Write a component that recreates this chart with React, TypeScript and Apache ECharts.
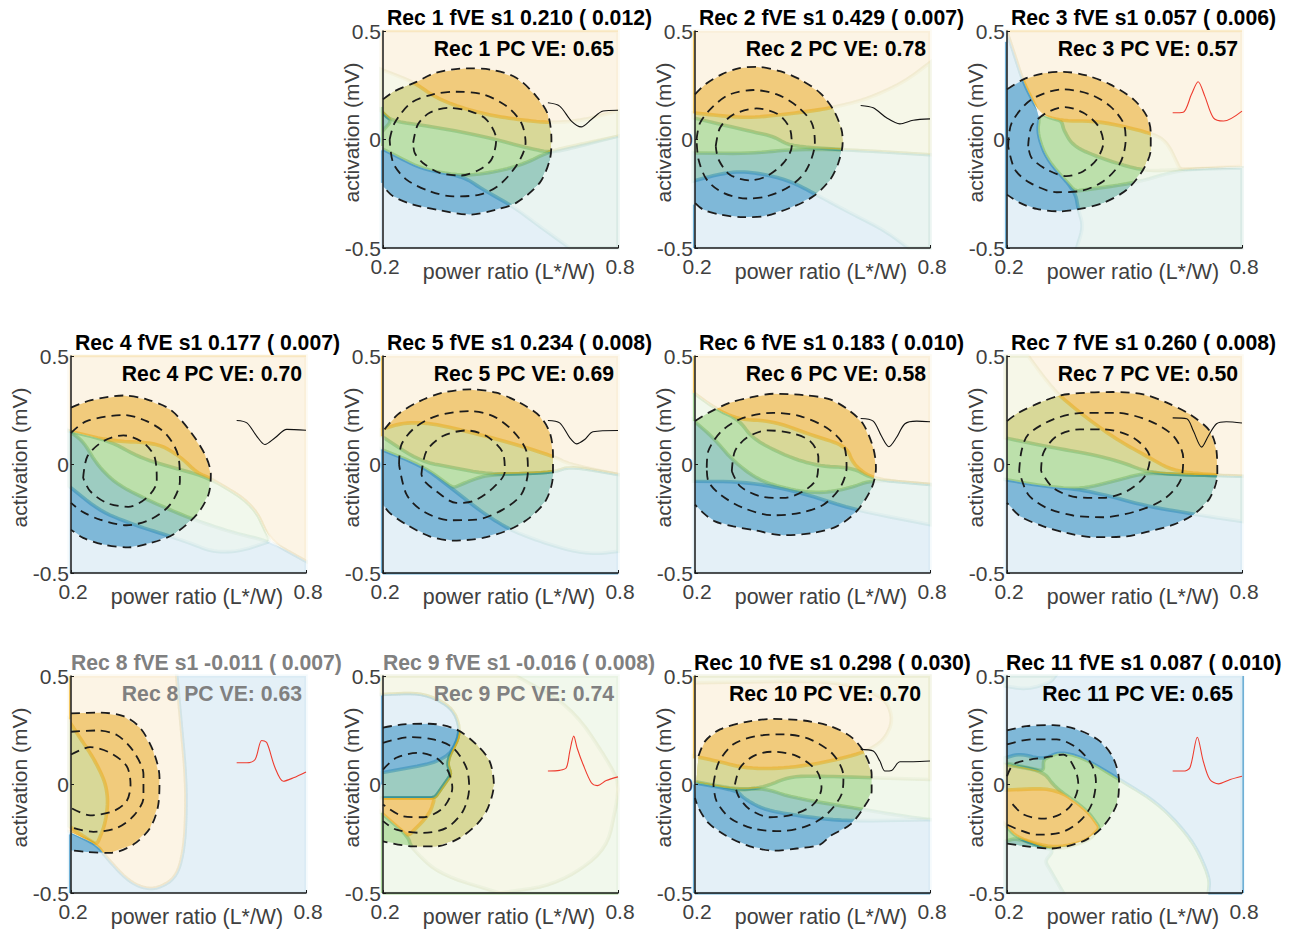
import React, { useEffect, useRef } from "react";
import * as echarts from "echarts";

type P = number[];
const recNames = ["1", "2", "3", "4", "5", "6", "7", "8", "9", "10", "11"];
const fveValues = ["0.210", "0.429", "0.057", "0.177", "0.234", "0.183", "0.260", "-0.011", "-0.016", "0.298", "0.087"];
const fveErrors = ["0.012", "0.007", "0.006", "0.007", "0.008", "0.010", "0.008", "0.007", "0.008", "0.030", "0.010"];
const pcValues = ["0.65", "0.78", "0.57", "0.70", "0.69", "0.58", "0.50", "0.63", "0.74", "0.70", "0.65"];
const xTicks = [0.2, 0.8];
const yTicks = [-0.5, 0, 0.5];

const outer1: P[] = [[.2,.185],[.23,.223],[.281,.262],[.336,.308],[.413,.328],[.481,.32],[.54,.285],[.591,.2],[.621,.115],[.63,0],[.626,-.092],[.6,-.2],[.54,-.292],[.489,-.323],[.421,-.346],[.345,-.326],[.277,-.3],[.226,-.262],[.2,-.215]];
const mid1: P[] = [[.217,0],[.23,.077],[.272,.169],[.328,.208],[.387,.22],[.455,.208],[.515,.154],[.553,.077],[.564,-.015],[.545,-.108],[.498,-.208],[.447,-.254],[.379,-.262],[.319,-.238],[.26,-.185],[.226,-.108],[.217,0]];
const inner1: P[] = [[.277,-.015],[.289,.069],[.319,.123],[.366,.146],[.421,.131],[.464,.092],[.489,0],[.477,-.092],[.447,-.138],[.4,-.166],[.345,-.154],[.302,-.108],[.281,-.062],[.277,-.015]];
const orange1: P[][] = [[[.195,.5],[.8,.5],[.8,.015],[.702,-.03],[.63,-.062],[.566,-.038],[.472,.008],[.345,.054],[.221,.085],[.195,.131]]];
const green1: P[][] = [[[.195,.323],[.281,.262],[.328,.2],[.387,.154],[.464,.115],[.532,.095],[.617,.077],[.702,.085],[.8,.131],[.8,-.5],[.677,-.5],[.6,-.4],[.532,-.308],[.455,-.231],[.404,-.169],[.302,-.138],[.226,-.069],[.195,-.04]]];
const blue1: P[][] = [[[.195,-.04],[.226,-.069],[.302,-.138],[.404,-.169],[.498,-.146],[.566,-.108],[.626,-.054],[.702,-.023],[.8,.015],[.8,-.5],[.195,-.5]],[[.195,.131],[.221,.085],[.195,.031]]];
const wave1: P[] = [[.621,.169],[.651,.154],[.681,.085],[.706,.058],[.732,.092],[.762,.131],[.8,.135]];
const edges1: any[] = [["o",[[.2,.5],[.8,.5]]],["b",[[.197,-.05],[.197,-.2]]],["g",[[.197,.15],[.197,-.03]]]];

const outer2: P[] = [[.2,.208],[.226,.254],[.268,.3],[.311,.328],[.357,.335],[.417,.315],[.468,.277],[.519,.215],[.553,.138],[.574,.046],[.577,-.015],[.566,-.108],[.545,-.185],[.502,-.262],[.443,-.315],[.374,-.354],[.323,-.358],[.264,-.346],[.221,-.323],[.2,-.292]];
const mid2: P[] = [[.204,0],[.213,.077],[.247,.154],[.289,.208],[.349,.228],[.409,.208],[.46,.154],[.498,.077],[.506,-.015],[.485,-.138],[.443,-.215],[.383,-.262],[.332,-.272],[.272,-.246],[.23,-.185],[.209,-.092],[.204,0]];
const inner2: P[] = [[.253,-.031],[.264,.054],[.298,.115],[.357,.143],[.413,.115],[.443,.046],[.447,-.031],[.426,-.108],[.383,-.169],[.34,-.188],[.289,-.162],[.26,-.092],[.253,-.031]];
const orange2: P[][] = [[[.195,.5],[.8,.5],[.8,-.07],[.574,-.046],[.443,-.031],[.4,.015],[.34,.038],[.195,.1]]];
const green2: P[][] = [[[.195,.123],[.272,.108],[.34,.1],[.426,.115],[.494,.131],[.549,.146],[.638,.185],[.732,.262],[.8,.354],[.8,-.5],[.745,-.5],[.681,-.415],[.596,-.338],[.502,-.246],[.443,-.192],[.383,-.162],[.315,-.146],[.255,-.162],[.195,-.192]]];
const blue2: P[][] = [[[.195,-.062],[.34,-.065],[.443,-.046],[.574,-.046],[.8,-.07],[.8,-.5],[.195,-.5]]];
const wave2: P[] = [[.623,.157],[.655,.146],[.689,.1],[.723,.072],[.757,.089],[.8,.095]];
const edges2: any[] = [["o",[[.197,.5],[.197,.12]]],["b",[[.197,-.3],[.197,-.5]]]];

const outer3: P[] = [[.2,.231],[.242,.277],[.293,.305],[.344,.312],[.403,.295],[.463,.254],[.523,.185],[.557,.108],[.567,.031],[.567,-.046],[.548,-.138],[.506,-.231],[.446,-.292],[.386,-.32],[.335,-.331],[.276,-.32],[.233,-.292],[.2,-.254]];
const mid3: P[] = [[.203,-.031],[.212,.077],[.263,.185],[.344,.231],[.412,.208],[.463,.154],[.497,.077],[.503,0],[.489,-.108],[.446,-.192],[.386,-.238],[.327,-.243],[.259,-.2],[.22,-.138],[.203,-.031]];
const inner3: P[] = [[.254,-.031],[.263,.062],[.301,.123],[.348,.149],[.395,.123],[.433,.062],[.446,-.015],[.429,-.092],[.395,-.146],[.352,-.169],[.301,-.138],[.263,-.085],[.254,-.031]];
const orange3: P[][] = [[[.199,.5],[.8,.5],[.8,-.123],[.642,-.138],[.548,-.146],[.437,-.085],[.369,-.031],[.344,.046],[.34,.085],[.284,.115],[.242,.262],[.22,.385]]];
const green3: P[][] = [[[.284,.115],[.34,.085],[.437,.085],[.565,.031],[.608,-.008],[.642,-.138],[.8,-.131],[.8,-.5],[.378,-.5],[.395,-.4],[.382,-.323],[.374,-.238],[.301,-.092],[.277,.031]]];
const blue3: P[][] = [[[.199,.5],[.22,.385],[.242,.262],[.284,.115],[.277,.031],[.301,-.092],[.374,-.238],[.531,-.2],[.642,-.138],[.8,-.131],[.8,-.5],[.195,-.5]]];
const wave3: P[] = [[.623,.123],[.65,.126],[.671,.208],[.688,.266],[.705,.2],[.727,.1],[.753,.085],[.8,.131]];
const edges3: any[] = [["o",[[.2,.5],[.8,.5]]],["b",[[.197,.45],[.197,-.5]]]];

const outer4: P[] = [[.2,.262],[.249,.295],[.334,.318],[.393,.3],[.453,.254],[.504,.154],[.542,.046],[.557,-.046],[.551,-.138],[.521,-.231],[.461,-.323],[.402,-.362],[.346,-.382],[.283,-.369],[.231,-.338],[.2,-.3]];
const mid4: P[] = [[.2,.146],[.24,.2],[.334,.228],[.393,.2],[.444,.138],[.474,.038],[.478,-.077],[.453,-.185],[.402,-.254],[.342,-.28],[.274,-.254],[.227,-.215],[.2,-.177]];
const inner4: P[] = [[.231,-.062],[.242,.038],[.283,.108],[.334,.134],[.385,.1],[.414,.031],[.419,-.077],[.393,-.154],[.346,-.195],[.291,-.177],[.249,-.123],[.231,-.062]];
const orange4: P[][] = [[[.195,.5],[.8,.5],[.8,-.446],[.708,-.354],[.666,-.185],[.555,-.062],[.461,-.015],[.376,.031],[.3,.108],[.195,.154]]];
const green4: P[][] = [[[.195,.154],[.3,.108],[.419,.1],[.478,.038],[.521,-.038],[.555,-.062],[.666,-.185],[.708,-.354],[.631,-.4],[.563,-.403],[.504,-.362],[.453,-.331],[.359,-.277],[.274,-.215],[.195,-.1]]];
const blue4: P[][] = [[[.195,.154],[.231,.108],[.266,0],[.317,-.092],[.402,-.169],[.512,-.254],[.614,-.315],[.708,-.354],[.8,-.446],[.8,-.5],[.195,-.5]]];
const wave4: P[] = [[.623,.203],[.649,.192],[.674,.131],[.695,.092],[.721,.123],[.751,.162],[.8,.158]];
const edges4: any[] = [["o",[[.2,.5],[.8,.5]]]];

const outer5: P[] = [[.204,.162],[.238,.231],[.294,.292],[.353,.331],[.421,.346],[.489,.331],[.549,.285],[.6,.223],[.626,.146],[.634,.046],[.634,-.046],[.617,-.162],[.574,-.246],[.523,-.3],[.455,-.338],[.379,-.351],[.319,-.331],[.26,-.277],[.217,-.223],[.2,-.185]];
const mid5: P[] = [[.241,0],[.247,.092],[.281,.169],[.336,.223],[.421,.246],[.481,.223],[.532,.154],[.566,.062],[.57,-.031],[.553,-.138],[.506,-.208],[.438,-.254],[.37,-.257],[.302,-.215],[.26,-.138],[.241,0]];
const inner5: P[] = [[.298,-.046],[.311,.062],[.353,.131],[.413,.157],[.464,.131],[.506,.054],[.511,-.031],[.481,-.108],[.43,-.169],[.387,-.177],[.336,-.123],[.306,-.077],[.298,-.046]];
const orange5: P[][] = [[[.196,.5],[.8,.5],[.8,-.046],[.677,-.008],[.634,-.038],[.472,-.046],[.379,-.015],[.294,.015],[.196,.131]]];
const green5: P[][] = [[[.196,.162],[.251,.192],[.319,.192],[.43,.146],[.54,.092],[.634,.038],[.677,0],[.8,-.046],[.8,-.4],[.745,-.412],[.685,-.4],[.6,-.354],[.523,-.3],[.455,-.223],[.379,-.115],[.302,-.008],[.196,.069]]];
const blue5: P[][] = [[[.196,.069],[.302,-.008],[.379,-.108],[.43,-.069],[.472,-.046],[.634,-.038],[.677,-.008],[.8,-.046],[.8,-.5],[.196,-.5]]];
const wave5: P[] = [[.621,.203],[.651,.192],[.677,.123],[.694,.095],[.715,.115],[.736,.151],[.8,.157]];
const edges5: any[] = [["o",[[.197,.5],[.197,.13]]],["b",[[.197,.07],[.197,-.5]]],["b",[[.2,-.503],[.8,-.503]]]];

const outer6: P[] = [[.2,.2],[.234,.238],[.289,.285],[.34,.308],[.4,.326],[.477,.32],[.545,.3],[.596,.246],[.63,.185],[.655,.077],[.662,-.015],[.651,-.108],[.613,-.215],[.562,-.285],[.502,-.315],[.426,-.326],[.357,-.305],[.298,-.285],[.251,-.262],[.221,-.223],[.2,-.185]];
const mid6: P[] = [[.23,-.015],[.234,.062],[.268,.154],[.323,.215],[.4,.238],[.468,.223],[.536,.169],[.579,.092],[.587,-.015],[.57,-.108],[.528,-.185],[.468,-.223],[.4,-.234],[.323,-.2],[.264,-.138],[.234,-.077],[.23,-.015]];
const inner6: P[] = [[.294,-.031],[.302,.062],[.332,.123],[.383,.157],[.443,.146],[.494,.108],[.515,.031],[.511,-.062],[.477,-.123],[.426,-.154],[.366,-.146],[.315,-.1],[.294,-.031]];
const orange6: P[][] = [[[.196,.5],[.8,.5],[.8,-.092],[.655,-.069],[.604,-.015],[.519,-.008],[.443,.031],[.349,.115],[.311,.208],[.255,.254],[.196,.331]]];
const green6: P[][] = [[[.196,.331],[.255,.254],[.311,.208],[.4,.2],[.494,.138],[.587,.085],[.604,0],[.655,-.069],[.8,-.092],[.8,-.277],[.604,-.208],[.46,-.123],[.332,-.08],[.196,-.077]]];
const blue6: P[][] = [[[.196,.203],[.247,.123],[.298,.015],[.366,-.077],[.46,-.123],[.528,-.131],[.596,-.108],[.655,-.069],[.8,-.092],[.8,-.5],[.196,-.5]]];
const wave6: P[] = [[.623,.212],[.655,.2],[.676,.131],[.695,.082],[.714,.123],[.736,.188],[.766,.2],[.8,.197]];
const edges6: any[] = [["o",[[.197,.5],[.197,.33]]],["g",[[.197,.33],[.197,.2]]]];

const outer7: P[] = [[.2,.2],[.229,.238],[.284,.285],[.335,.318],[.403,.331],[.471,.334],[.548,.323],[.608,.285],[.667,.231],[.718,.154],[.735,.062],[.737,-.046],[.718,-.154],[.676,-.231],[.625,-.277],[.557,-.311],[.506,-.331],[.42,-.335],[.352,-.315],[.293,-.285],[.233,-.238],[.2,-.177]];
const mid7: P[] = [[.231,-.031],[.237,.062],[.254,.138],[.318,.208],[.395,.238],[.48,.238],[.565,.2],[.625,.131],[.65,.031],[.642,-.077],[.599,-.162],[.531,-.215],[.446,-.243],[.369,-.235],[.301,-.2],[.254,-.138],[.231,-.031]];
const inner7: P[] = [[.287,-.031],[.293,.054],[.327,.131],[.386,.162],[.446,.162],[.523,.123],[.565,.031],[.552,-.054],[.506,-.123],[.446,-.154],[.378,-.151],[.318,-.108],[.287,-.031]];
const orange7: P[][] = [[[.195,.5],[.8,.5],[.8,-.054],[.625,-.046],[.552,-.031],[.497,.008],[.42,.046],[.293,.085],[.195,.123]]];
const green7: P[][] = [[[.195,.5],[.254,.5],[.301,.385],[.335,.315],[.403,.215],[.48,.115],[.557,.038],[.625,-.031],[.735,-.049],[.8,-.054],[.8,-.262],[.684,-.231],[.557,-.192],[.463,-.146],[.386,-.115],[.293,-.1],[.195,-.069]]];
const blue7: P[][] = [[[.195,-.069],[.293,-.1],[.386,-.115],[.471,-.077],[.552,-.038],[.625,-.046],[.8,-.054],[.8,-.5],[.195,-.5]]];
const wave7: P[] = [[.623,.215],[.659,.211],[.676,.154],[.697,.08],[.714,.131],[.735,.188],[.76,.197],[.8,.191]];
const edges7: any[] = [];

const outer8: P[] = [[.2,.328],[.274,.331],[.334,.315],[.376,.262],[.41,.154],[.426,.031],[.423,-.092],[.402,-.2],[.359,-.277],[.3,-.315],[.24,-.311],[.2,-.303]];
const mid8: P[] = [[.2,.243],[.266,.249],[.317,.228],[.359,.154],[.385,.046],[.385,-.062],[.359,-.146],[.317,-.2],[.257,-.218],[.2,-.197]];
const inner8: P[] = [[.2,.138],[.249,.172],[.3,.146],[.342,.085],[.352,0],[.342,-.077],[.308,-.123],[.249,-.142],[.2,-.108]];
const orange8: P[][] = [[[.195,.5],[.47,.5],[.478,.338],[.495,0],[.491,-.277],[.47,-.431],[.41,-.489],[.351,-.454],[.291,-.338],[.266,-.277],[.195,-.215]]];
const green8: P[][] = [[[.195,.292],[.223,.215],[.257,.123],[.287,.015],[.295,-.077],[.287,-.185],[.266,-.277],[.231,-.238],[.195,-.192]]];
const blue8: P[][] = [[[.47,.5],[.8,.5],[.8,-.5],[.195,-.5],[.195,-.22],[.266,-.277],[.291,-.338],[.351,-.454],[.41,-.489],[.47,-.431],[.491,-.277],[.495,0],[.478,.338]]];
const wave8: P[] = [[.623,.1],[.649,.1],[.67,.115],[.687,.203],[.7,.192],[.721,.077],[.742,.015],[.768,.031],[.8,.058]];
const edges8: any[] = [["o",[[.197,.5],[.197,.3]]],["b",[[.197,-.23],[.197,-.5]]]];

const outer9: P[] = [[.2,.262],[.251,.277],[.319,.28],[.387,.254],[.438,.185],[.472,.108],[.483,0],[.468,-.108],[.443,-.177],[.396,-.246],[.336,-.285],[.277,-.285],[.2,-.262]];
const mid9: P[] = [[.2,.192],[.268,.218],[.328,.208],[.379,.169],[.413,.077],[.42,-.015],[.404,-.123],[.362,-.2],[.302,-.223],[.234,-.208],[.2,-.169]];
const inner9: P[] = [[.2,.069],[.234,.123],[.289,.146],[.336,.123],[.366,.062],[.377,-.015],[.353,-.108],[.302,-.151],[.251,-.146],[.2,-.092]];
const orange9: P[][] = [[[.196,.5],[.54,.5],[.685,.354],[.796,.046],[.8,-.023],[.796,-.092],[.77,-.308],[.643,-.462],[.498,-.5],[.345,-.415],[.272,-.292],[.264,-.238],[.196,-.131],[.196,-.062],[.332,-.062],[.374,.046],[.362,.108],[.4,.238],[.379,.354],[.302,.423],[.196,.415]]];
const green9: P[][] = [[[.196,.5],[.8,.5],[.8,-.5],[.196,-.5],[.196,-.131],[.264,-.238],[.319,-.138],[.332,-.062],[.196,-.062],[.196,.054],[.362,.108],[.4,.238],[.379,.354],[.302,.423],[.196,.415]]];
const blue9: P[][] = [[[.196,.415],[.302,.423],[.379,.354],[.4,.238],[.362,.108],[.374,.046],[.332,-.062],[.196,-.062]]];
const wave9: P[] = [[.621,.062],[.651,.065],[.668,.077],[.677,.154],[.687,.223],[.696,.166],[.711,.092],[.732,.008],[.747,-.005],[.77,.018],[.8,.035]];
const edges9: any[] = [["b",[[.197,.41],[.197,.0]]],["g",[[.197,-.13],[.197,-.5]]],["g",[[.2,-.503],[.8,-.503]]]];

const outer10: P[] = [[.209,.131],[.226,.2],[.264,.254],[.332,.289],[.4,.302],[.477,.295],[.545,.269],[.596,.223],[.63,.154],[.651,.046],[.651,-.031],[.63,-.108],[.596,-.185],[.545,-.238],[.519,-.277],[.46,-.295],[.4,-.305],[.34,-.285],[.281,-.238],[.234,-.177],[.209,-.108],[.2,-.062]];
const mid10: P[] = [[.247,0],[.26,.1],[.298,.185],[.357,.223],[.426,.231],[.494,.208],[.553,.138],[.579,.038],[.574,-.046],[.536,-.138],[.485,-.192],[.417,-.215],[.349,-.203],[.289,-.154],[.255,-.077],[.247,0]];
const inner10: P[] = [[.302,0],[.315,.077],[.349,.131],[.396,.151],[.46,.131],[.511,.062],[.523,-.015],[.502,-.092],[.451,-.138],[.391,-.151],[.34,-.115],[.311,-.054],[.302,0]];
const orange10: P[][] = [[[.196,.5],[.8,.5],[.8,.023],[.651,.031],[.536,.038],[.443,.038],[.374,-.015],[.306,-.023],[.196,.015]]];
const green10: P[][] = [[[.196,.131],[.255,.108],[.332,.074],[.426,.074],[.528,.1],[.63,.146],[.681,.2],[.706,.292],[.689,.392],[.613,.454],[.511,.477],[.2,.469],[.2,.5],[.8,.5],[.8,-.162],[.587,-.169],[.468,-.146],[.374,-.115],[.323,-.062],[.308,-.028],[.196,.008]]];
const blue10: P[][] = [[[.196,.008],[.308,-.028],[.374,-.015],[.451,-.062],[.63,-.115],[.732,-.146],[.8,-.162],[.8,-.5],[.196,-.5]]];
const wave10: P[] = [[.623,.162],[.655,.154],[.672,.108],[.685,.062],[.702,.065],[.723,.105],[.757,.105],[.8,.108]];
const edges10: any[] = [["o",[[.197,.5],[.197,.12]]],["b",[[.197,.0],[.197,-.5]]],["b",[[.2,-.503],[.8,-.503]]]];

const outer11: P[] = [[.2,.249],[.25,.269],[.318,.274],[.378,.254],[.437,.2],[.471,.123],[.486,.015],[.48,-.092],[.446,-.192],[.403,-.254],[.352,-.285],[.31,-.295],[.25,-.285],[.2,-.272]];
const mid11: P[] = [[.2,.185],[.263,.208],[.327,.208],[.378,.169],[.416,.092],[.427,.015],[.416,-.092],[.386,-.169],[.335,-.223],[.276,-.231],[.2,-.185]];
const inner11: P[] = [[.2,.038],[.216,.092],[.259,.115],[.293,.123],[.344,.138],[.374,.069],[.382,0],[.365,-.092],[.335,-.138],[.293,-.157],[.242,-.138],[.208,-.077]];
const orange11: P[][] = [[[.195,.092],[.293,.062],[.323,-.015],[.403,-.115],[.437,-.2],[.408,-.262],[.318,-.305],[.225,-.246],[.195,-.185]]];
const green11: P[][] = [[[.195,.123],[.233,.142],[.293,.115],[.335,.151],[.395,.123],[.48,.031],[.591,-.092],[.676,-.262],[.718,-.431],[.714,-.5],[.195,-.5],[.195,-.185],[.225,-.246],[.318,-.295],[.403,-.262],[.437,-.2],[.403,-.115],[.323,-.015],[.195,-.026]],[[.195,.5],[.323,.5],[.31,.469],[.25,.438],[.195,.454]]];
const blue11: P[][] = [[[.195,.5],[.8,.5],[.8,-.5],[.714,-.5],[.718,-.431],[.676,-.262],[.591,-.092],[.48,.031],[.395,.123],[.335,.151],[.293,.115],[.293,.062],[.195,.1]],[[.195,-.262],[.225,-.246],[.318,-.305],[.297,-.354],[.344,-.5],[.195,-.5]]];
const wave11: P[] = [[.623,.062],[.65,.062],[.667,.077],[.686,.218],[.701,.108],[.718,.023],[.74,.003],[.77,.023],[.8,.038]];
const edges11: any[] = [["b",[[.803,.5],[.803,-.5]]],["b",[[.714,-.503],[.8,-.503]]]];

const outers = [outer1, outer2, outer3, outer4, outer5, outer6, outer7, outer8, outer9, outer10, outer11];
const mids = [mid1, mid2, mid3, mid4, mid5, mid6, mid7, mid8, mid9, mid10, mid11];
const inners = [inner1, inner2, inner3, inner4, inner5, inner6, inner7, inner8, inner9, inner10, inner11];
const oranges = [orange1, orange2, orange3, orange4, orange5, orange6, orange7, orange8, orange9, orange10, orange11];
const greens = [green1, green2, green3, green4, green5, green6, green7, green8, green9, green10, green11];
const blues = [blue1, blue2, blue3, blue4, blue5, blue6, blue7, blue8, blue9, blue10, blue11];
const waves = [wave1, wave2, wave3, wave4, wave5, wave6, wave7, wave8, wave9, wave10, wave11];
const edgeLines = [edges1, edges2, edges3, edges4, edges5, edges6, edges7, edges8, edges9, edges10, edges11];

// layout (pixels)
const plotLefts = [383, 695, 1007, 71, 383, 695, 1007, 71, 383, 695, 1007];
const plotTops = [31, 31, 31, 356, 356, 356, 356, 676, 676, 676, 676];
const titleLefts = [387, 699, 1011, 75, 387, 699, 1011, 71, 383, 694, 1006];
const veRights = [614, 926, 1238, 302, 614, 926, 1238, 302, 614, 921, 1233];
const yNameGaps = [21, 21, 21, 41, 21, 21, 21, 41, 21, 21, 21];
const PW = 235;
const PH = 217;

const SAT = { o: "#f1cb7c", g: "#bce0ab", b: "#7fb8d8", og: "#d8d898", gb: "#9dccc1", ob: "#b8c4ab",
  so: "rgba(230,170,20,0.5)", sg: "rgba(110,175,90,0.45)", sb: "rgba(20,125,170,0.4)" };
const PALE = { o: "#fcf4e5", g: "#f1f8ec", b: "#e4f0f7", og: "#f6f7e8", gb: "#eaf4f1", ob: "#f0f2ee",
  so: "rgba(230,190,90,0.08)", sg: "rgba(130,190,110,0.07)", sb: "rgba(60,150,200,0.05)" };
const EDGE: any = { o: "#f2c65e", g: "#a9d69a", b: "#6fb0d6" };

const isFrame = (q: number[]) => q[0] <= 0.2 || q[0] >= 0.8 || Math.abs(q[1]) >= 0.5;

// rounds a closed outline's inner corners once it is in pixels; frame corners stay sharp
function soften(data: number[][], px: number[][]) {
  const n = px.length;
  const out: number[][] = [];
  for (let i = 0; i < n; i++) {
    const v = px[i], a = px[(i + n - 1) % n], b = px[(i + 1) % n];
    if (isFrame(data[i])) { out.push(v); continue; }
    const ax = a[0] - v[0], ay = a[1] - v[1], bx = b[0] - v[0], by = b[1] - v[1];
    const la = Math.hypot(ax, ay) || 1, lb = Math.hypot(bx, by) || 1;
    const cos = (ax * bx + ay * by) / (la * lb);
    const sharp = cos > -0.6;
    const ca = sharp ? Math.min(4, la * 0.45) : Math.min(40, la * 0.45);
    const cb = sharp ? Math.min(4, lb * 0.45) : Math.min(40, lb * 0.45);
    const s = [v[0] + (ax / la) * ca, v[1] + (ay / la) * ca];
    const e = [v[0] + (bx / lb) * cb, v[1] + (by / lb) * cb];
    for (let k = 0; k <= 6; k++) {
      const t = k / 6, u = 1 - t;
      out.push([u * u * s[0] + 2 * u * t * v[0] + t * t * e[0], u * u * s[1] + 2 * u * t * v[1] + t * t * e[1]]);
    }
  }
  return out;
}

function polys(list: number[][][], fill: string) {
  return list.map((pts) => ({ type: "polygon", shape: { points: pts }, style: { fill } }));
}
function strokes(list: number[][][], stroke: string) {
  return list.map((pts) => ({ type: "polygon", shape: { points: pts }, style: { fill: "none", stroke, lineWidth: 3.6 } }));
}
function clipped(clip: number[][], children: any[]) {
  return { type: "group", clipPath: { type: "polygon", shape: { points: clip } }, children };
}
function layer(o: number[][][], g: number[][][], b: number[][][], pal: any, clip?: number[][]) {
  const children: any[] = [...polys(g, pal.g), ...polys(o, pal.o), ...polys(b, pal.b)];
  if (!clip) children.push(...strokes(g, pal.sg), ...strokes(o, pal.so), ...strokes(b, pal.sb));
  g.forEach((gp) => children.push(clipped(gp, [...polys(o, pal.og), ...polys(b, pal.gb)])));
  // a border seen through another region takes that region's tint
  g.forEach((gp) => children.push(clipped(gp, [...strokes(o, pal.sg), ...strokes(b, pal.sg)])));
  o.forEach((op) => children.push(clipped(op, [...strokes(g, pal.so), ...strokes(b, pal.so)])));
  b.forEach((bp) => children.push(clipped(bp, [...strokes(g, pal.sb), ...strokes(o, pal.sb)])));
  const out: any = { type: "group", children };
  if (clip) out.clipPath = { type: "polygon", shape: { points: clip } };
  return out;
}

function buildOption() {
  const grid: any[] = [], xAxis: any[] = [], yAxis: any[] = [], series: any[] = [], title: any[] = [];
  const textColor = "#404040";
  const font = "Liberation Sans, Helvetica, Arial, sans-serif";
  recNames.forEach((rec, i) => {
    const faded = i === 7 || i === 8;
    const tc = faded ? "#808080" : "#000000";
    grid.push({ left: plotLefts[i], top: plotTops[i], width: PW, height: PH, containLabel: false, outerBoundsMode: "none" });
    xAxis.push({
      type: "value", gridIndex: i, min: 0.2, max: 0.8, z: 5,
      name: "power ratio (L*/W)", nameLocation: "middle", nameGap: 13, nameMoveOverlap: false,
      nameTextStyle: { fontSize: 21.4, color: textColor, fontFamily: font, padding: [0, 0, 0, 17], verticalAlign: "top" },
      axisLine: { onZero: false, lineStyle: { color: "#1a1a1a", width: 1.5 } },
      axisTick: { inside: true, length: 3, customValues: xTicks, lineStyle: { color: "#1a1a1a" } },
      axisLabel: { customValues: xTicks, margin: 8, padding: [0, 0, 0, 4], fontSize: 21, color: textColor, fontFamily: font, formatter: (v: number) => v.toFixed(1) },
      splitLine: { show: false },
    });
    yAxis.push({
      type: "value", gridIndex: i, min: -0.5, max: 0.5, z: 5,
      name: "activation (mV)", nameLocation: "middle", nameGap: yNameGaps[i], nameMoveOverlap: false,
      nameRotate: 90,
      nameTextStyle: { fontSize: 21, color: textColor, fontFamily: font, padding: [0, 0, 0, 14], verticalAlign: "bottom" },
      axisLine: { onZero: false, lineStyle: { color: "#1a1a1a", width: 1.5 } },
      axisTick: { inside: true, length: 3, customValues: yTicks, lineStyle: { color: "#1a1a1a" } },
      axisLabel: { customValues: yTicks, margin: 2, fontSize: 21, color: textColor, fontFamily: font, formatter: (v: number) => (v === 0 ? "0" : String(v)) },
      splitLine: { show: false },
    });
    title.push({
      text: `Rec ${rec} fVE s1 ${fveValues[i]} ( ${fveErrors[i]})`,
      left: titleLefts[i], top: plotTops[i] - 25, padding: 0,
      textStyle: { fontSize: 21.2, fontWeight: "bold", color: tc, fontFamily: font, lineHeight: 22 },
    });
    title.push({
      text: `Rec ${rec} PC VE: ${pcValues[i]}`,
      right: 1291 - veRights[i], top: plotTops[i] + 6, padding: 0,
      textStyle: { fontSize: 21.2, fontWeight: "bold", color: tc, fontFamily: font, lineHeight: 22 },
    });
    series.push({
      type: "custom", xAxisIndex: i, yAxisIndex: i, silent: true, z: 2, clip: false,
      data: [[0.2, -0.5]],
      renderItem: (_p: any, api: any) => {
        const px = (pts: number[][]) => pts.map((q) => api.coord(q));
        const round = (pts: number[][]) => soften(pts, px(pts));
        const o = oranges[i].map(round), g = greens[i].map(round), b = blues[i].map(round);
        const edges = edgeLines[i].map((e: any) => {
          const top = e[1][0][1] === 0.5 && e[1][1][1] === 0.5;
          return {
            type: "polyline", shape: { points: px(e[1]) },
            style: { fill: "none", stroke: top ? "#f7dfa8" : EDGE[e[0]], lineWidth: top ? 1.2 : 1.8 },
          };
        });
        return {
          type: "group",
          children: [layer(o, g, b, PALE), ...edges, layer(o, g, b, SAT, px(outers[i]))],
        };
      },
    });
    [outers[i], mids[i], inners[i]].forEach((c) => {
      series.push({
        type: "line", xAxisIndex: i, yAxisIndex: i, data: c, showSymbol: false, smooth: 0.3, silent: true, z: 3, clip: false,
        lineStyle: { color: "#1c1c1c", width: 1.8, type: [9, 6] },
      });
    });
    series.push({
      type: "line", xAxisIndex: i, yAxisIndex: i, data: waves[i], showSymbol: false, smooth: 0.3, silent: true, z: 4,
      lineStyle: { color: [2, 7, 8, 10].includes(i) ? "#ee3b2e" : "#111111", width: 1.1 },
    });
  });
  return { animation: false, backgroundColor: "#ffffff", grid, xAxis, yAxis, series, title };
}

export default function App() {
  const ref = useRef<HTMLDivElement>(null);
  useEffect(() => {
    const chart = echarts.init(ref.current!, undefined, { renderer: "svg" });
    chart.setOption(buildOption() as any);
    return () => chart.dispose();
  }, []);
  return <div ref={ref} style={{ position: "absolute", left: 0, top: 0, width: 1291, height: 930 }} />;
}
